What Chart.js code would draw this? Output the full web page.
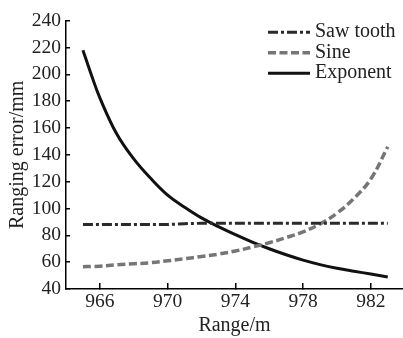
<!DOCTYPE html>
<html>
<head>
<meta charset="utf-8">
<script src="https://cdn.jsdelivr.net/npm/chart.js@4"></script>
<style>
html,body{margin:0;padding:0;background:#fff;}
canvas{display:block;}
</style>
</head>
<body>
<canvas id="c" width="403" height="338"></canvas>
<script>
// ---- data ----
const ranges   = [965, 965.5, 966, 967, 968, 969, 970, 971, 972, 973, 974, 975, 976, 977, 978, 979, 980, 981, 982, 983];
const sawTooth = [88, 88, 88, 88, 88, 88, 88, 88.7, 89, 89, 89, 89, 89, 89, 89, 89, 89, 89, 89, 89];
const sine     = [56.6, 56.8, 57, 58, 58.8, 59.6, 61, 62.5, 64.2, 66, 68.3, 71.3, 74.5, 78.3, 82.6, 88.5, 96.5, 107.5, 122, 146];
const exponent = [218, 199.5, 182.5, 155.5, 137, 122.5, 110, 101, 93, 86.5, 80.5, 75, 70, 65.5, 61.5, 58.2, 55.4, 53.2, 51.2, 49];
const seriesNames = ['Saw tooth', 'Sine', 'Exponent'];
const xTicks = [966, 970, 974, 978, 982];
const yTicks = [40, 60, 80, 100, 120, 140, 160, 180, 200, 220, 240];
const xTitle = 'Range/m';
const yTitle = 'Ranging error/mm';

const FONT = '"Liberation Serif", "Times New Roman", serif';
const toPts = arr => arr.map((v, i) => ({x: ranges[i], y: v}));

const legendPlugin = {
  id: 'innerLegend',
  afterDatasetsDraw(chart) {
    const ctx = chart.ctx, a = chart.chartArea;
    chart.data.datasets.forEach((ds, i) => {
      const y = a.top + 11.5 + i * 20.5;
      ctx.save();
      ctx.strokeStyle = ds.borderColor;
      ctx.lineWidth = ds.borderWidth;
      ctx.setLineDash(ds.borderDash || []);
      ctx.beginPath();
      ctx.moveTo(a.right - 135, y);
      ctx.lineTo(a.right - 93, y);
      ctx.stroke();
      ctx.setLineDash([]);
      ctx.fillStyle = '#222';
      ctx.font = '20px ' + FONT;
      ctx.textBaseline = 'middle';
      ctx.textAlign = 'left';
      ctx.fillText(ds.label, a.right - 88, y);
      ctx.restore();
    });
  }
};

new Chart(document.getElementById('c'), {
  type: 'line',
  data: {
    datasets: [
      {label: seriesNames[0], data: toPts(sawTooth), borderColor: '#2a2a2a', borderWidth: 3,
       borderDash: [10, 3, 3, 3], pointRadius: 0, tension: 0, fill: false},
      {label: seriesNames[1], data: toPts(sine), borderColor: '#767676', borderWidth: 3.5,
       borderDash: [8, 3.5], pointRadius: 0, tension: 0.4, fill: false},
      {label: seriesNames[2], data: toPts(exponent), borderColor: '#111', borderWidth: 3,
       pointRadius: 0, tension: 0.4, fill: false}
    ]
  },
  options: {
    responsive: false,
    animation: false,
    layout: {padding: {top: 20, right: 0, bottom: 0, left: 0}},
    plugins: {legend: {display: false}, tooltip: {enabled: false}},
    scales: {
      x: {
        type: 'linear',
        min: 964, max: 983.9,
        afterBuildTicks: s => { s.ticks = xTicks.map(v => ({value: v})); },
        afterFit: s => { s.height = 49; },
        grid: {drawOnChartArea: false, drawTicks: true, tickLength: -6, color: '#000', lineWidth: 1.5},
        border: {color: '#000', width: 1.5},
        ticks: {font: {family: FONT, size: 19.5}, color: '#222', padding: 7, maxRotation: 0},
        title: {display: true, text: xTitle, font: {family: FONT, size: 20}, color: '#222', padding: {top: 0, bottom: 0}}
      },
      y: {
        type: 'linear',
        min: 40, max: 240,
        afterBuildTicks: s => { s.ticks = yTicks.map(v => ({value: v})); },
        afterFit: s => { s.width = 66; },
        grid: {drawOnChartArea: false, drawTicks: true, tickLength: -4, color: '#000', lineWidth: 1.5},
        border: {color: '#000', width: 1.5},
        ticks: {font: {family: FONT, size: 19.5}, color: '#222', padding: 9},
        title: {display: true, text: yTitle, font: {family: FONT, size: 20}, color: '#222', padding: {top: 6, bottom: 0}}
      }
    }
  },
  plugins: [legendPlugin]
});
</script>
</body>
</html>
